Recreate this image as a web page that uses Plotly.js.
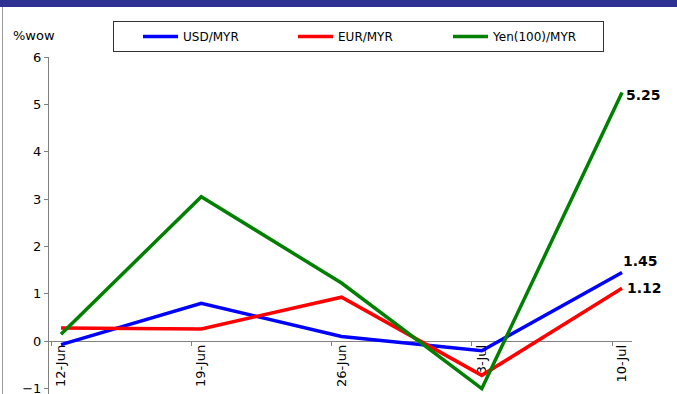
<!DOCTYPE html>
<html>
<head>
<meta charset="utf-8">
<script src="https://cdn.plot.ly/plotly-3.0.1.min.js"></script>
<style>
html,body{margin:0;padding:0;overflow:hidden;background:#fff;}
#wrap{position:relative;width:677px;height:394px;overflow:hidden;}
#chart{position:absolute;left:0;top:0;width:677px;height:450px;}
#bar{position:absolute;left:0;top:0;width:677px;height:7px;background:#2E3192;}
#edge{position:absolute;left:2px;top:7px;width:1px;height:400px;background:#9a9a9a;}
</style>
</head>
<body>
<div id="wrap">
<div id="chart"></div>
<div id="bar"></div>
<div id="edge"></div>
</div>
<script>
const categories = ["12-Jun", "19-Jun", "26-Jun", "3-Jul", "10-Jul"];
const usd = [-0.07, 0.80, 0.10, -0.20, 1.45];
const eur = [0.28, 0.26, 0.93, -0.72, 1.12];
const yen = [0.15, 3.05, 1.23, -1.00, 5.25];
const seriesNames = ["USD/MYR", "EUR/MYR", "Yen(100)/MYR"];
const yTicks = [-1, 0, 1, 2, 3, 4, 5, 6];

const xIdx = categories.map((c, i) => i);
const tickShift = -0.07;
const font = "DejaVu Sans, Verdana, sans-serif";

function tr(y, name, color) {
  return {x: xIdx, y: y, name: name, type: "scatter", mode: "lines",
          line: {color: color, width: 3.5}, xaxis: "x", yaxis: "y"};
}
const traces = [tr(usd, seriesNames[0], "#0000FF"), tr(eur, seriesNames[1], "#FF0000"), tr(yen, seriesNames[2], "#008000")];

const last = categories.length - 1;
const ann = [
  {x: last, y: yen[last], text: yen[last].toFixed(2), xanchor: "left", yanchor: "middle", xshift: 2, yshift: -2},
  {x: last, y: usd[last], text: usd[last].toFixed(2), xanchor: "left", yanchor: "middle", xshift: -1, yshift: 12},
  {x: last, y: eur[last], text: eur[last].toFixed(2), xanchor: "left", yanchor: "middle", xshift: 3, yshift: 0}
].map(a => Object.assign(a, {xref: "x", yref: "y", showarrow: false,
   font: {family: "DejaVu Sans, Verdana, sans-serif", size: 14, color: "#000", weight: "bold"}}));
ann.push({xref: "paper", yref: "paper", x: -0.066, y: 1.056, xanchor: "left", yanchor: "middle",
  text: "%wow", showarrow: false, font: {family: font, size: 13, color: "#000"}});

const layout = {
  width: 677, height: 450,
  margin: {l: 49, r: 45, t: 57, b: 14},
  paper_bgcolor: "#fff", plot_bgcolor: "#fff",
  showlegend: true,
  legend: {orientation: "h", x: 0.1098, y: 1.095, xanchor: "left", yanchor: "top",
           bordercolor: "#333", borderwidth: 1, bgcolor: "#fff",
           title: {text: "\u00A0\u00A0\u00A0\u00A0", side: "left", font: {family: font, size: 11}},
           font: {family: font, size: 12, color: "#000"},
           entrywidth: 105, entrywidthmode: "pixels", itemwidth: 35},
  xaxis: {range: [-0.0856, 4.071], tickvals: xIdx, ticktext: categories, tickangle: -90,
          showgrid: false, zeroline: false, showline: false, ticks: "",
          anchor: "free", position: 0.25, layer: "below traces",
          tickfont: {family: font, size: 13, color: "#000"}, fixedrange: true},
  xaxis2: {range: [-0.0856, 4.071], tickvals: xIdx.map(i => i + tickShift), showticklabels: false,
           overlaying: "x", anchor: "free", position: 0.25, showgrid: false, zeroline: false,
           showline: true, linecolor: "#808080", linewidth: 1,
           ticks: "outside", ticklen: 4, tickcolor: "#808080", layer: "below traces"},
  yaxis: {range: [-2, 6], tickvals: yTicks, showgrid: false, zeroline: false,
          showline: true, linecolor: "#808080", linewidth: 1,
          ticks: "outside", ticklen: 4, tickcolor: "#808080",
          tickfont: {family: font, size: 13, color: "#000"}, layer: "below traces"},
  annotations: ann
};
traces.push({x: [xIdx[0]], y: [null], xaxis: "x2", yaxis: "y", showlegend: false, hoverinfo: "skip", type: "scatter", mode: "lines"});
Plotly.newPlot("chart", traces, layout, {displayModeBar: false, staticPlot: true});
</script>
</body>
</html>
